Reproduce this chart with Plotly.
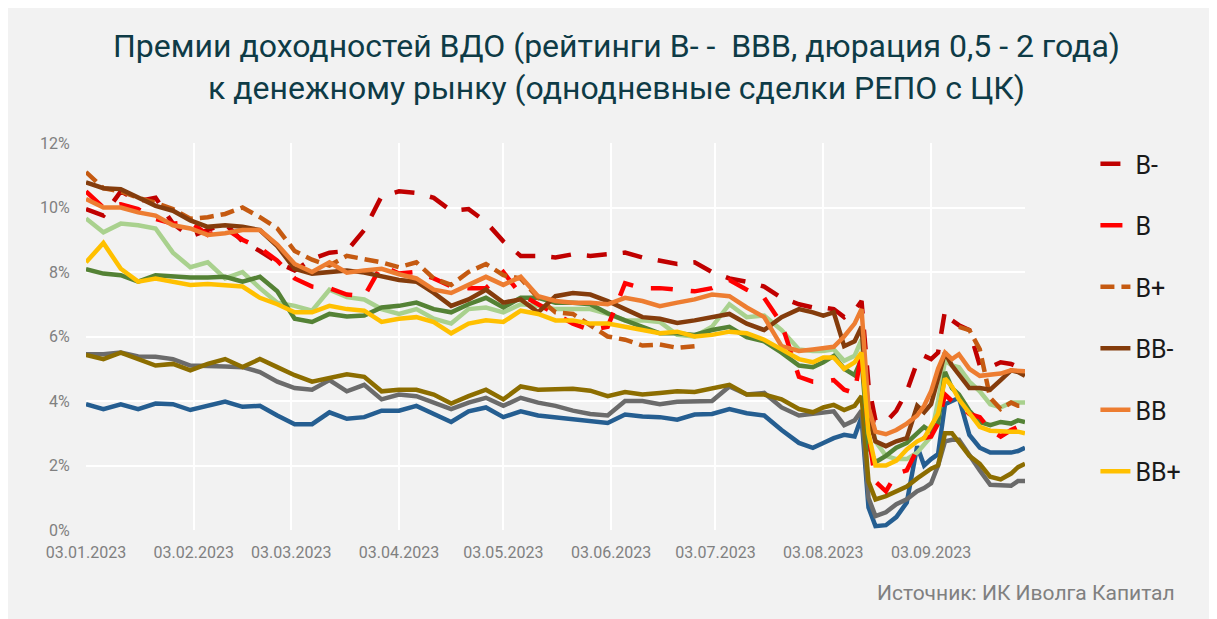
import plotly.graph_objects as go

FONT = "Roboto"
TITLE_COLOUR = "#0e3b46"
TICK_COLOUR = "#808080"
PANEL_BG = "#f2f2f2"

dates = [
    "2023-01-03", "2023-01-08", "2023-01-13", "2023-01-18", "2023-01-23", "2023-01-28", "2023-02-02",
    "2023-02-07", "2023-02-12", "2023-02-17", "2023-02-22", "2023-02-27", "2023-03-04", "2023-03-09",
    "2023-03-14", "2023-03-19", "2023-03-24", "2023-03-29", "2023-04-03", "2023-04-08", "2023-04-13",
    "2023-04-18", "2023-04-23", "2023-04-28", "2023-05-03", "2023-05-08", "2023-05-13", "2023-05-18",
    "2023-05-23", "2023-05-28", "2023-06-02", "2023-06-07", "2023-06-12", "2023-06-17", "2023-06-22",
    "2023-06-27", "2023-07-02", "2023-07-07", "2023-07-12", "2023-07-17", "2023-07-22", "2023-07-27",
    "2023-07-31", "2023-08-03", "2023-08-06", "2023-08-09", "2023-08-12", "2023-08-14", "2023-08-16",
    "2023-08-18", "2023-08-21", "2023-08-24", "2023-08-27", "2023-08-30", "2023-09-01", "2023-09-03",
    "2023-09-05", "2023-09-07", "2023-09-09", "2023-09-11", "2023-09-14", "2023-09-17", "2023-09-20",
    "2023-09-23", "2023-09-26", "2023-09-28", "2023-09-30",
]

# премии, % годовых
b_minus = [9.95, 9.75, 10.5, 10.2, 10.3, 9.5, 9.1, 9.3, 9.5, 8.95,
           8.65, 8.3, 8.05, 8.4, 8.6, 8.65, 9.3, 10.35, 10.5, 10.45,
           10.3, 9.9, 9.95, 9.55, 8.95, 8.5, 8.5, 8.45, 8.55, 8.5,
           8.55, 8.6, 8.45, 8.35, 8.25, 8.3, 8.0, 7.8, 7.7, 7.55,
           7.2, 7.0, 6.9, 6.9, 6.85, 6.6, 6.8, 7.1, 4.5, 3.4,
           3.35, 3.7, 4.3, 5.2, 5.4, 5.3, 5.5, 6.8, 6.5, 6.35,
           6.2, 5.1, 5.05, 5.2, 5.15, 5.05, 4.95]
b_mid = [10.5, 10.0, 10.1, 9.95, 9.65, 9.5, 9.55, 9.15, 9.35, 9.0,
         8.75, 8.35, 7.8, 7.55, 7.5, 7.3, 7.25, 8.2, 7.95, 8.0,
         7.8, 7.55, 7.5, 7.5, 8.0, 7.3, 7.0, 6.7, 6.4, 6.2,
         6.3, 7.65, 7.5, 7.5, 7.45, 7.4, 7.5, 7.75, 7.45, 7.2,
         6.4, 4.75, 4.6, 4.6, 4.65, 4.35, 4.25, 5.5, 3.0, 1.5,
         1.2, 1.75, 1.85, 2.5, 2.85, 2.9, 3.3, 4.2, 4.0, 3.9,
         3.6, 3.5, 3.1, 2.9, 3.1, 3.2, 3.1]
b_plus = [11.1, 10.6, 10.5, 10.3, 10.15, 9.95, 9.65, 9.7, 9.8, 10.0,
          9.7, 9.35, 8.65, 8.38, 8.2, 8.5, 8.4, 8.3, 8.15, 8.3,
          7.8, 7.6, 8.0, 8.25, 7.9, 7.8, 7.2, 6.75, 6.7, 6.35,
          6.0, 5.9, 5.72, 5.75, 5.65, 5.7, None, None, None, None,
          None, None, None, None, None, None, None, None, None, None,
          None, None, None, None, None, None, None, None, None, 6.3,
          6.2, 5.6, 4.1, 3.75, 3.95, 3.85, 3.85]
bb_minus = [10.78, 10.6, 10.57, 10.3, 10.05, 9.9, 9.6, 9.4, 9.45, 9.4,
            9.3, 8.8, 8.1, 7.95, 8.0, 8.05, 7.98, 7.85, 7.75, 7.7,
            7.35, 6.95, 7.15, 7.45, 7.05, 7.15, 6.75, 7.25, 7.35, 7.3,
            7.1, 6.85, 6.6, 6.55, 6.42, 6.5, 6.6, 6.7, 6.4, 6.2,
            6.6, 6.85, 6.75, 6.65, 6.75, 5.7, 5.85, 6.3, 3.5, 2.75,
            2.6, 2.75, 2.85, 3.85, 3.65, 3.9, 4.7, 5.5, 5.1, 4.8,
            4.4, 4.4, 4.35, 4.65, 4.95, 4.9, 4.78]
bb_mid = [10.26, 10.0, 10.0, 9.85, 9.75, 9.45, 9.35, 9.15, 9.2, 9.3,
          9.3, 8.85, 8.25, 8.0, 8.3, 7.98, 8.05, 8.1, 7.93, 7.8,
          7.45, 7.35, 7.6, 7.85, 7.6, 7.85, 7.25, 7.1, 7.05, 7.05,
          7.0, 7.2, 7.1, 6.94, 7.05, 7.15, 7.3, 7.25, 6.9, 6.6,
          5.7, 5.55, 5.6, 5.63, 5.68, 6.0, 6.4, 6.85, 3.8, 3.05,
          2.97, 3.1, 3.3, 3.55, 3.85, 4.3, 5.0, 5.5, 5.3, 5.45,
          5.0, 4.78, 4.8, 4.85, 4.95, 4.95, 4.92]
bb_plus = [8.3, 8.9, 8.1, 7.7, 7.8, 7.7, 7.6, 7.63, 7.6, 7.55,
           7.2, 7.0, 6.75, 6.75, 6.95, 6.85, 6.8, 6.45, 6.55, 6.6,
           6.45, 6.1, 6.4, 6.5, 6.45, 6.8, 6.7, 6.5, 6.5, 6.4,
           6.4, 6.3, 6.2, 6.1, 6.15, 6.0, 6.05, 6.15, 6.1, 5.9,
           5.6, 5.3, 5.2, 5.35, 5.35, 5.0, 5.2, 5.5, 3.0, 2.0,
           2.0, 2.15, 2.5, 2.75, 2.85, 3.2, 3.6, 4.7, 4.45, 4.05,
           3.6, 3.2, 3.08, 3.05, 3.05, 3.05, 3.0]
bbb_minus = [9.66, 9.23, 9.5, 9.45, 9.35, 8.6, 8.15, 8.3, 7.8, 8.0,
             7.5, 7.05, 6.95, 6.8, 7.45, 7.22, 7.15, 6.85, 6.7, 6.85,
             6.55, 6.4, 6.85, 6.9, 6.75, 7.0, 6.95, 6.85, 6.85, 6.85,
             6.7, 6.5, 6.5, 6.45, 6.05, 6.0, 6.3, 7.0, 6.6, 6.65,
             6.2, 5.6, 5.55, 5.55, 5.6, 5.25, 5.4, 5.9, 3.8, 2.75,
             2.3, 2.2, 2.2, 2.4, 2.65, 2.9, 4.0, 5.25, 5.1, 5.05,
             4.6, 4.3, 3.9, 3.8, 3.95, 3.95, 3.95]
bbb_mid = [8.09, 7.95, 7.9, 7.7, 7.9, 7.85, 7.83, 7.83, 7.85, 7.7,
           7.85, 7.4, 6.55, 6.45, 6.7, 6.62, 6.65, 6.9, 6.95, 7.05,
           6.85, 6.75, 7.0, 7.2, 6.9, 7.2, 7.2, 7.05, 7.05, 7.0,
           6.72, 6.5, 6.3, 6.1, 6.1, 6.05, 6.2, 6.3, 5.98, 5.85,
           5.5, 5.1, 5.05, 5.2, 5.4, 5.0, 4.8, 5.3, 2.6, 2.1,
           2.3, 2.55, 2.7, 3.0, 3.2, 3.05, 3.3, 4.9, 4.4, 4.2,
           3.7, 3.35, 3.25, 3.35, 3.3, 3.4, 3.35]
grey_line = [5.45, 5.45, 5.5, 5.38, 5.37, 5.3, 5.1, 5.07, 5.07, 5.05,
             4.9, 4.6, 4.4, 4.35, 4.65, 4.3, 4.5, 4.05, 4.2, 4.15,
             3.95, 3.75, 3.95, 4.1, 3.85, 4.1, 3.95, 3.85, 3.7, 3.6,
             3.55, 4.0, 4.0, 3.9, 3.98, 4.0, 4.0, 4.45, 4.2, 4.25,
             3.8, 3.55, 3.6, 3.62, 3.68, 3.25, 3.4, 3.7, 1.0, 0.43,
             0.55, 0.8, 0.95, 1.2, 1.3, 1.45, 2.0, 2.75, 2.8, 2.8,
             2.3, 1.85, 1.4, 1.37, 1.37, 1.52, 1.52]
olive_line = [5.43, 5.3, 5.5, 5.3, 5.1, 5.15, 4.95, 5.15, 5.3, 5.05,
              5.3, 5.05, 4.8, 4.6, 4.7, 4.83, 4.75, 4.3, 4.35, 4.35,
              4.2, 3.92, 4.15, 4.35, 4.05, 4.45, 4.35, 4.35, 4.38, 4.32,
              4.15, 4.28, 4.2, 4.25, 4.3, 4.28, 4.4, 4.5, 4.2, 4.2,
              4.05, 3.75, 3.65, 3.8, 3.88, 3.72, 3.85, 4.15, 1.5, 0.95,
              1.05, 1.2, 1.35, 1.6, 1.75, 1.9, 2.0, 3.0, 3.0, 2.7,
              2.3, 2.05, 1.65, 1.57, 1.75, 1.95, 2.05]
blue_line = [3.9, 3.75, 3.9, 3.75, 3.92, 3.9, 3.72, 3.85, 3.98, 3.82,
             3.85, 3.55, 3.28, 3.28, 3.65, 3.45, 3.5, 3.7, 3.7, 3.85,
             3.6, 3.35, 3.68, 3.8, 3.5, 3.68, 3.55, 3.5, 3.45, 3.37,
             3.32, 3.58, 3.52, 3.5, 3.42, 3.58, 3.6, 3.75, 3.62, 3.55,
             3.1, 2.7, 2.55, 2.7, 2.85, 2.95, 2.9, 3.5, 0.7, 0.12,
             0.15, 0.4, 0.85, 2.6, 2.0, 2.2, 2.35, 3.9, 4.0, 4.1,
             2.95, 2.55, 2.4, 2.4, 2.4, 2.45, 2.55]

x_ticks = ["2023-01-03", "2023-02-03", "2023-03-03", "2023-04-03", "2023-05-03",
           "2023-06-03", "2023-07-03", "2023-08-03", "2023-09-03"]
y_ticks = [0, 2, 4, 6, 8, 10, 12]
y_tick_labels = ["0%", "2%", "4%", "6%", "8%", "10%", "12%"]

# (name, values, colour, dash, in legend)
SERIES = [
    ("BBB+", blue_line, "#255e91", "solid", False),
    ("BBB", grey_line, "#6b6b6b", "solid", False),
    ("BBB-", olive_line, "#8c6d00", "solid", False),
    ("BB+ (2)", bbb_minus, "#a9d18e", "solid", False),
    ("BB (2)", bbb_mid, "#548235", "solid", False),
    ("B-", b_minus, "#c00000", "20px,16px", True),
    ("B", b_mid, "#ff0000", "22px,18px", True),
    ("B+", b_plus, "#c55a11", "14px,7px", True),
    ("BB-", bb_minus, "#843c0c", "solid", True),
    ("BB", bb_mid, "#ed7d31", "solid", True),
    ("BB+", bb_plus, "#ffc000", "solid", True),
]
LEGEND_ORDER = ["B-", "B", "B+", "BB-", "BB", "BB+"]

fig = go.Figure()
for name, vals, colour, dash, in_legend in SERIES:
    fig.add_trace(go.Scatter(
        x=dates, y=vals, name=name, mode="lines",
        line=dict(color=colour, width=4.5, dash=dash),
        connectgaps=False, showlegend=in_legend,
        legendgroup=name, legendrank=LEGEND_ORDER.index(name) + 1 if in_legend else 1000,
    ))

# the page body adds 8px on the top and left, so the margins are 8px less
fig.update_layout(
    width=1217, height=619,
    paper_bgcolor=PANEL_BG, plot_bgcolor=PANEL_BG,
    margin=dict(l=78, r=200, t=135, b=97),
    font=dict(family=FONT, color=TICK_COLOUR),
    title=dict(
        text="Премии доходностей ВДО (рейтинги В- -  ВВВ, дюрация 0,5 - 2 года)<br>к денежному рынку (однодневные сделки РЕПО с ЦК)",
        x=0.5, xref="container", xanchor="center",
        y=1 - 49 / 619, yref="container", yanchor="top",
        font=dict(family=FONT, size=32, color=TITLE_COLOUR),
    ),
    legend=dict(
        x=1.075, y=1.005, xanchor="left", yanchor="top",
        bgcolor="rgba(0,0,0,0)", font=dict(family=FONT, size=25, color="#1a1a1a"),
        traceorder="grouped", tracegroupgap=26, maxheight=480,
    ),
    annotations=[dict(
        text="Источник: ИК Иволга Капитал", xref="paper", yref="paper",
        x=1.1619, y=-0.1628, xanchor="right", yanchor="middle",
        showarrow=False, font=dict(family=FONT, size=21, color=TICK_COLOUR),
    )],
)
fig.update_xaxes(
    type="date", range=["2023-01-03", "2023-09-30"],
    tickvals=x_ticks, tickformat="%d.%m.%Y",
    showgrid=True, gridcolor="white", gridwidth=1.5, zeroline=False,
    tickfont=dict(family=FONT, size=16, color=TICK_COLOUR),
    ticks="outside", ticklen=8, tickcolor="rgba(0,0,0,0)",
)
fig.update_yaxes(
    range=[0, 12], tickvals=y_ticks, ticktext=y_tick_labels,
    showgrid=True, gridcolor="white", gridwidth=1.5, zeroline=False,
    tickfont=dict(family=FONT, size=16, color=TICK_COLOUR),
    ticks="outside", ticklen=12, tickcolor="rgba(0,0,0,0)",
)

fig.write_html("out.html")
